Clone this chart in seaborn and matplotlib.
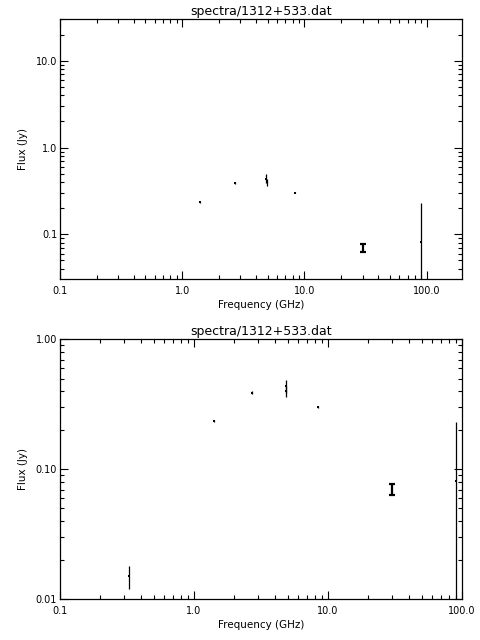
import numpy as np
import pandas as pd
import matplotlib
matplotlib.use("Agg")
import matplotlib.pyplot as plt
import matplotlib.ticker as mticker
import seaborn as sns

# ==============================
# Data
# ==============================

source_file = "spectra/1312+533.dat"

freq_ghz = [0.325, 1.4, 2.7, 4.85, 4.9, 8.4, 30.0, 90.0]
flux_jy = [0.015, 0.234, 0.39, 0.44, 0.40, 0.303, 0.070, 0.081]
flux_err = [0.003, 0.004, 0.01, 0.05, 0.04, 0.005, 0.007, 0.15]

x_ticks = [0.1, 1.0, 10.0, 100.0]
x_ticklabels = ["0.1", "1.0", "10.0", "100.0"]

top_yticks = [0.1, 1.0, 10.0]
top_yticklabels = ["0.1", "1.0", "10.0"]
bottom_yticks = [0.01, 0.1, 1.0]
bottom_yticklabels = ["0.01", "0.10", "1.00"]

df = pd.DataFrame({"freq": freq_ghz, "flux": flux_jy, "err": flux_err})

# ==============================
# Figure setup
# ==============================

sns.set_style("ticks")
plt.rcParams["font.family"] = ["DejaVu Sans"]
plt.rcParams["text.color"] = "black"
plt.rcParams["axes.labelcolor"] = "black"
plt.rcParams["xtick.color"] = "black"
plt.rcParams["ytick.color"] = "black"

fig = plt.figure(figsize=(4.8, 6.4), dpi=100)
ax_top = fig.add_axes([0.125, 0.5636, 0.8375, 0.406])
ax_bot = fig.add_axes([0.125, 0.0636, 0.8375, 0.406])


def draw_panel(ax, xlim, ylim, yticks, yticklabels):
    ax.set_xscale("log")
    ax.set_yscale("log")

    # error bars (the 30 GHz one is drawn with hats)
    for f, s, e in zip(df["freq"], df["flux"], df["err"]):
        cap = 2.2 if f == 30.0 else 0
        lw = 1.6 if f == 30.0 else 0.9
        ax.errorbar(f, s, yerr=e, fmt="none", ecolor="black",
                    elinewidth=lw, capsize=cap, capthick=lw, clip_on=True)

    sns.scatterplot(data=df, x="freq", y="flux", ax=ax, color="black",
                    marker="s", s=2.5, linewidth=0, legend=False)

    ax.set_xlim(*xlim)
    ax.set_ylim(*ylim)

    ax.xaxis.set_major_locator(mticker.FixedLocator(x_ticks))
    ax.xaxis.set_major_formatter(mticker.FixedFormatter(x_ticklabels))
    ax.xaxis.set_minor_locator(mticker.LogLocator(base=10, subs=np.arange(2, 10)))
    ax.xaxis.set_minor_formatter(mticker.NullFormatter())

    ax.yaxis.set_major_locator(mticker.FixedLocator(yticks))
    ax.yaxis.set_major_formatter(mticker.FixedFormatter(yticklabels))
    ax.yaxis.set_minor_locator(mticker.LogLocator(base=10, subs=np.arange(2, 10)))
    ax.yaxis.set_minor_formatter(mticker.NullFormatter())

    ax.tick_params(which="both", direction="in", top=True, right=True,
                   color="black", labelcolor="black", width=0.8, labelsize=7)
    ax.tick_params(which="major", length=6)
    ax.tick_params(which="minor", length=3)
    ax.tick_params(axis="x", which="major", pad=5)
    ax.tick_params(axis="y", which="major", pad=2)

    for sp in ax.spines.values():
        sp.set_linewidth(0.9)
        sp.set_color("black")

    ax.set_title(source_file, fontsize=9, pad=3, color="black")
    ax.set_xlabel("Frequency (GHz)", fontsize=7.5, color="black")
    ax.set_ylabel("Flux (Jy)", fontsize=7.5, color="black")
    ax.xaxis.set_label_coords(0.5, -0.078)
    ax.yaxis.set_label_coords(-0.08, 0.5)


draw_panel(ax_top, (0.1, 195.0), (0.0303, 30.0), top_yticks, top_yticklabels)
draw_panel(ax_bot, (0.1, 100.0), (0.01, 1.0), bottom_yticks, bottom_yticklabels)

fig.savefig("out.png", dpi=100, facecolor="white")
